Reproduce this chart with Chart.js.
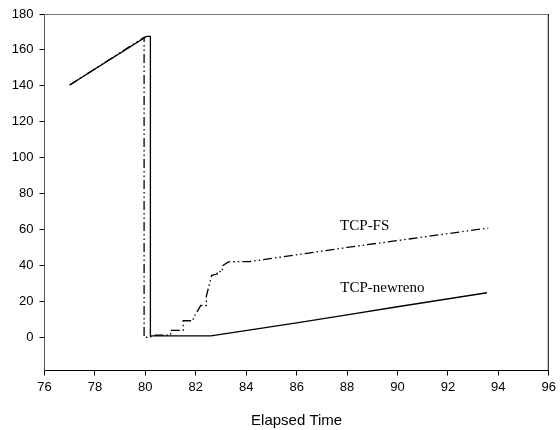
<!DOCTYPE html>
<html>
<head>
<meta charset="utf-8">
<script src="https://cdn.jsdelivr.net/npm/chart.js@4.4.0/dist/chart.umd.min.js"></script>
<style>
  html, body { margin: 0; padding: 0; background: #fff; }
  #wrap { width: 560px; height: 430px; }
</style>
</head>
<body>
<div id="wrap"><canvas id="chart" width="560" height="430"></canvas></div>
<script>
// TCP-newreno (solid line)
const renoX = [77.0, 80.05, 80.2, 80.2, 82.6, 86.0, 88.0, 90.0, 93.55];
const renoY = [140.5, 167.5, 167.5, 0.8, 0.8, 8.0, 12.5, 17.0, 24.8];

// TCP-FS (dash-dot-dot line), step climb after the drop
const fsX = [77.0, 79.95, 79.95, 80.15, 80.4, 81.0, 81.0, 81.5, 81.5, 81.9, 81.9, 82.2, 82.42, 82.42, 82.63, 82.85, 82.85, 83.05, 83.05, 83.3, 84.15, 88.0, 93.6];
const fsY = [140.5, 167.0, 0.0, 0.0, 1.2, 1.2, 3.8, 3.8, 9.2, 9.2, 10.7, 17.7, 17.7, 23.0, 34.5, 35.2, 36.5, 36.5, 39.8, 42.0, 42.2, 50.0, 60.8];

// in-plot labels
const labelText = ['TCP-FS', 'TCP-newreno'];
const labelX = [88.7, 89.4];
const labelY = [62.1, 27.4];

const xTicks = { min: 76, max: 96, step: 2 };
const yTicks = { min: -18.5, max: 180, step: 20 };

const toPts = (xs, ys) => xs.map((x, i) => ({ x: x, y: ys[i] }));

// frame around plot + series labels
const framePlugin = {
  id: 'frame',
  afterDraw(chart) {
    const { ctx, chartArea: a, scales } = chart;
    ctx.save();
    ctx.lineWidth = 1;
    ctx.strokeStyle = '#777';
    ctx.beginPath();
    ctx.moveTo(a.left, a.top + 0.5);
    ctx.lineTo(a.right, a.top + 0.5);
    ctx.stroke();
    ctx.strokeStyle = '#000';
    ctx.beginPath();
    ctx.moveTo(a.right - 0.5, a.top);
    ctx.lineTo(a.right - 0.5, a.bottom);
    ctx.stroke();

    ctx.fillStyle = '#000';
    ctx.font = '15px "Liberation Serif"';
    ctx.textAlign = 'center';
    ctx.textBaseline = 'middle';
    labelText.forEach((t, i) => {
      ctx.fillText(t, scales.x.getPixelForValue(labelX[i]), scales.y.getPixelForValue(labelY[i]));
    });
    ctx.restore();
  }
};

const tickFont = { family: '"Liberation Sans", Arial', size: 13 };

new Chart(document.getElementById('chart'), {
  type: 'line',
  data: {
    datasets: [
      {
        label: 'TCP-newreno',
        data: toPts(renoX, renoY),
        borderColor: '#000',
        borderWidth: 1.3,
        pointRadius: 0,
        tension: 0,
        fill: false
      },
      {
        label: 'TCP-FS',
        data: toPts(fsX, fsY),
        borderColor: '#000',
        borderWidth: 1.3,
        borderDash: [9, 3, 1.5, 3, 1.5, 3],
        pointRadius: 0,
        tension: 0,
        fill: false
      }
    ]
  },
  options: {
    responsive: false,
    animation: false,
    layout: { padding: { top: 14, right: 7, left: 0, bottom: 0 } },
    plugins: {
      legend: { display: false },
      tooltip: { enabled: false }
    },
    scales: {
      x: {
        type: 'linear',
        min: xTicks.min,
        max: xTicks.max,
        afterFit: s => { s.height = 59.5; },
        ticks: { stepSize: xTicks.step, color: '#000', font: tickFont, maxRotation: 0, padding: 4 },
        grid: { drawOnChartArea: false, tickLength: 5, color: '#000' },
        border: { color: '#000', width: 1 },
        title: { display: true, text: 'Elapsed Time', color: '#000', font: { family: '"Liberation Sans", Arial', size: 15 }, padding: { top: 10, bottom: 0 } }
      },
      y: {
        type: 'linear',
        min: yTicks.min,
        max: yTicks.max,
        afterFit: s => { s.width = 44.5; },
        afterBuildTicks: s => { s.ticks = s.ticks.filter(t => t.value >= 0); },
        ticks: { stepSize: yTicks.step, color: '#000', font: tickFont, padding: 6 },
        grid: { drawOnChartArea: false, tickLength: 5, color: '#000' },
        border: { color: '#555', width: 1 }
      }
    }
  },
  plugins: [framePlugin]
});
</script>
</body>
</html>
